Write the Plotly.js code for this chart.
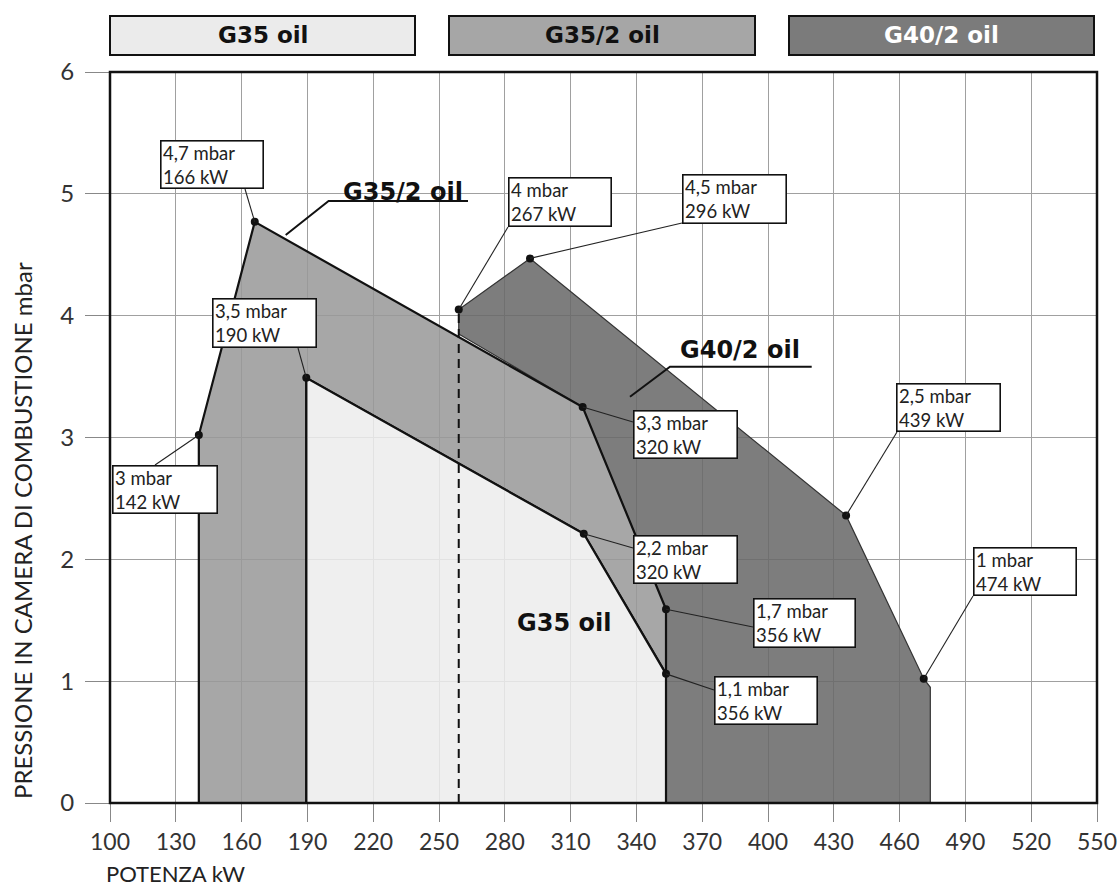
<!DOCTYPE html>
<html>
<head>
<meta charset="utf-8">
<script src="https://cdn.plot.ly/plotly-3.0.1.min.js"></script>
<style>
  html, body { margin: 0; padding: 0; background: #fff; }
  #chart { width: 1119px; height: 891px; }
</style>
</head>
<body>
<div id="chart"></div>
<script>
// ---------- data ----------
const kwTicks = [100, 130, 160, 190, 220, 250, 280, 310, 340, 370, 400, 430, 460, 490, 520, 550];
const mbarTicks = [0, 1, 2, 3, 4, 5, 6];

// firing-range polygons (kW, mbar) as drawn
const g35oil_kw   = [189.5, 189.5, 316, 353.5, 353.5];
const g35oil_mbar = [0, 3.49, 2.21, 1.06, 0];

const g352oil_kw   = [140.5, 140.5, 166, 315.5, 353.5, 353.5, 316, 189.5, 189.5];
const g352oil_mbar = [0, 3.02, 4.77, 3.25, 1.59, 1.06, 2.21, 3.49, 0];

const g402oil_kw   = [259, 259, 291.5, 435.6, 471, 474, 474, 353.5, 353.5, 315.5, 259];
const g402oil_mbar = [3.85, 4.05, 4.47, 2.36, 1.02, 0.95, 0, 0, 1.59, 3.25, 3.85];

// marked working points
const point_kw   = [166, 259, 291.5, 189.5, 140.5, 315.5, 316, 353.5, 353.5, 435.6, 471];
const point_mbar = [4.77, 4.05, 4.47, 3.49, 3.02, 3.25, 2.21, 1.59, 1.06, 2.36, 1.02];
const point_label = [
  "4,7 mbar<br>166 kW", "4 mbar<br>267 kW", "4,5 mbar<br>296 kW", "3,5 mbar<br>190 kW",
  "3 mbar<br>142 kW", "3,3 mbar<br>320 kW", "2,2 mbar<br>320 kW", "1,7 mbar<br>356 kW",
  "1,1 mbar<br>356 kW", "2,5 mbar<br>439 kW", "1 mbar<br>474 kW"
];
const models = ["G35 oil", "G35/2 oil", "G40/2 oil"];

// ---------- layout geometry (pixels) ----------
const W = 1119, H = 891;
const L = 110, R = 1097, T = 72, B = 803;
const pw = R - L, ph = B - T;
const X0 = 100, X1 = 550, Y0 = 0, Y1 = 6;
function pxX(v) { return L + (v - X0) * pw / (X1 - X0); }
function pxY(v) { return B - (v - Y0) * ph / (Y1 - Y0); }
function paperX(p) { return (p - L) / pw; }
function paperY(p) { return (B - p) / ph; }

// label boxes: [left, top, right, bottom] and leader start [x, y]
const boxRects = [
  [160, 140, 264, 189], [508, 177, 612, 227], [682, 174, 787, 224], [212, 298, 317, 348],
  [112, 465, 218, 514], [633, 410, 738, 459], [633, 535, 738, 584], [753, 598, 856, 648],
  [714, 676, 818, 725], [896, 383, 1001, 432], [973, 547, 1077, 596]
];
const leaderStart = [
  [245, 189], [508, 227], [682, 223], [298, 348], [155, 465], [633, 422],
  [633, 548], [753, 627], [714, 690], [897, 432], [973, 596]
];

const FONT = "Lato, 'Open Sans', sans-serif";
const BOLD = "'DejaVu Sans', sans-serif";

const traces = [
  { x: g402oil_kw, y: g402oil_mbar, type: 'scatter', mode: 'lines', fill: 'toself',
    fillcolor: 'rgba(104,104,104,0.86)', line: { color: '#333', width: 1.2 }, hoverinfo: 'skip' },
  { x: g352oil_kw, y: g352oil_mbar, type: 'scatter', mode: 'lines', fill: 'toself',
    fillcolor: 'rgba(152,152,152,0.86)', line: { color: '#111', width: 2.2 }, hoverinfo: 'skip' },
  { x: g35oil_kw, y: g35oil_mbar, type: 'scatter', mode: 'lines', fill: 'toself',
    fillcolor: 'rgba(236,236,236,0.86)', line: { color: '#111', width: 2.2 }, hoverinfo: 'skip' },
  { x: [g402oil_kw[1], g402oil_kw[1]], y: [0, g402oil_mbar[1]], type: 'scatter', mode: 'lines',
    line: { color: '#111', width: 2, dash: '9px,6px' }, hoverinfo: 'skip' },
  { x: point_kw, y: point_mbar, type: 'scatter', mode: 'markers',
    marker: { color: '#111', size: 8 }, hoverinfo: 'skip' }
];

const shapes = [];
const annotations = [];

// frame
shapes.push({ type: 'rect', xref: 'paper', yref: 'paper', x0: 0, x1: 1, y0: 0, y1: 1,
  line: { color: '#111', width: 2.5 }, layer: 'above' });

// point labels + leaders
point_kw.forEach((kw, i) => {
  const r = boxRects[i];
  const cx = (r[0] + r[2]) / 2, cy = (r[1] + r[3]) / 2;
  const dx = pxX(kw), dy = pxY(point_mbar[i]);
  annotations.push({
    x: kw, y: point_mbar[i], xref: 'x', yref: 'y', showarrow: false,
    xshift: cx - dx, yshift: dy - cy, xanchor: 'center', yanchor: 'middle',
    text: point_label[i], align: 'left', valign: 'middle',
    width: r[2] - r[0] - 6, height: r[3] - r[1] - 6, borderpad: 1.5, borderwidth: 1.6,
    bordercolor: '#111', bgcolor: '#fff', font: { family: FONT, size: 18.5, color: '#222' }
  });
  const s = leaderStart[i];
  shapes.push({ type: 'line', xref: 'x', yref: 'y', xsizemode: 'pixel', ysizemode: 'pixel',
    xanchor: kw, yanchor: point_mbar[i], x0: 0, y0: 0, x1: s[0] - dx, y1: dy - s[1],
    line: { color: '#222', width: 1.1 }, layer: 'above' });
});

// header boxes
const headerRects = [[110, 16, 415, 55], [449, 16, 755, 55], [789, 16, 1094, 55]];
const headerFill = ['#ebebeb', '#a6a6a6', '#7b7b7b'];
const headerText = ['#111', '#111', '#fff'];
headerRects.forEach((r, i) => {
  shapes.push({ type: 'rect', xref: 'paper', yref: 'paper',
    x0: paperX(r[0]), x1: paperX(r[2]), y0: paperY(r[3]), y1: paperY(r[1]),
    fillcolor: headerFill[i], line: { color: '#111', width: 2 } });
  annotations.push({ xref: 'paper', yref: 'paper', x: paperX((r[0] + r[2]) / 2),
    y: paperY((r[1] + r[3]) / 2), xanchor: 'center', yanchor: 'middle', showarrow: false,
    text: '<b>' + models[i] + '</b>', font: { family: BOLD, size: 23, color: headerText[i] } });
});

// in-chart series labels
annotations.push({ xref: 'paper', yref: 'paper', x: paperX(341), y: paperY(192), xanchor: 'left',
  yanchor: 'middle', showarrow: false, text: '<b>' + models[1] + '</b>',
  font: { family: BOLD, size: 24, color: '#111' } });
shapes.push({ type: 'path', xref: 'paper', yref: 'paper', layer: 'above',
  path: 'M ' + paperX(285.7) + ',' + paperY(235) + ' L ' + paperX(328.6) + ',' + paperY(201) +
        ' L ' + paperX(468) + ',' + paperY(201),
  line: { color: '#111', width: 2 } });

annotations.push({ xref: 'paper', yref: 'paper', x: paperX(678), y: paperY(350), xanchor: 'left',
  yanchor: 'middle', showarrow: false, text: '<b>' + models[2] + '</b>',
  font: { family: BOLD, size: 24, color: '#111' } });
shapes.push({ type: 'path', xref: 'paper', yref: 'paper', layer: 'above',
  path: 'M ' + paperX(630) + ',' + paperY(396.7) + ' L ' + paperX(670) + ',' + paperY(366.7) +
        ' L ' + paperX(811.7) + ',' + paperY(366.7),
  line: { color: '#111', width: 2 } });

annotations.push({ xref: 'paper', yref: 'paper', x: paperX(515), y: paperY(623), xanchor: 'left',
  yanchor: 'middle', showarrow: false, text: '<b>' + models[0] + '</b>',
  font: { family: BOLD, size: 24, color: '#111' } });

// axis titles
annotations.push({ xref: 'paper', yref: 'paper', x: paperX(104), y: paperY(873), xanchor: 'left',
  yanchor: 'middle', showarrow: false, text: 'POTENZA kW',
  font: { family: FONT, size: 22, color: '#222' } });
annotations.push({ xref: 'paper', yref: 'paper', x: paperX(22), y: paperY(531), xanchor: 'center',
  yanchor: 'middle', showarrow: false, textangle: -90,
  text: 'PRESSIONE IN CAMERA DI COMBUSTIONE mbar',
  font: { family: FONT, size: 24, color: '#222' } });

const layout = {
  width: W, height: H,
  margin: { l: L, r: W - R, t: T, b: H - B, pad: 0 },
  paper_bgcolor: '#fff', plot_bgcolor: '#fff',
  showlegend: false,
  xaxis: { range: [X0, X1], tickvals: kwTicks, ticktext: kwTicks.map(String),
    ticks: 'outside', ticklen: 18, tickwidth: 1, tickcolor: '#888',
    showgrid: true, gridcolor: '#a0a0a0', gridwidth: 1, zeroline: false, showline: false,
    tickfont: { family: FONT, size: 23, color: '#333' }, fixedrange: true },
  yaxis: { range: [Y0, Y1], tickvals: mbarTicks, ticktext: mbarTicks.map(String),
    ticks: 'outside', ticklen: 24, tickwidth: 1, tickcolor: '#888', ticklabelstandoff: 6,
    showgrid: true, gridcolor: '#a0a0a0', gridwidth: 1, zeroline: false, showline: false,
    tickfont: { family: FONT, size: 24, color: '#333' }, fixedrange: true },
  shapes: shapes,
  annotations: annotations
};

Plotly.newPlot('chart', traces, layout, { staticPlot: true, displayModeBar: false });
</script>
</body>
</html>
